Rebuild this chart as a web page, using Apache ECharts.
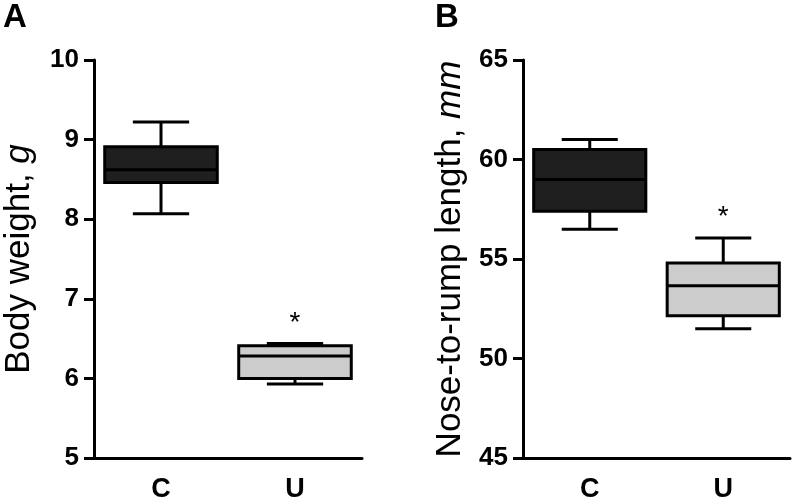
<!DOCTYPE html>
<html>
<head>
<meta charset="utf-8">
<script src="https://cdn.jsdelivr.net/npm/echarts@6/dist/echarts.min.js"></script>
<style>html,body{margin:0;padding:0;background:#fff}#c{width:797px;height:503px}</style>
</head>
<body>
<div id="c"></div>
<script>
// ---- data ----
const categories = ['C', 'U'];
// [min, Q1, median, Q3, max]
const weightC = [8.07, 8.46, 8.62, 8.91, 9.22];
const weightU = [5.93, 6.00, 6.28, 6.41, 6.44];
const lengthC = [56.5, 57.4, 59.0, 60.5, 61.0];
const lengthU = [51.5, 52.15, 53.65, 54.8, 56.05];
const weightAxisRange = [5, 10, 1];   // min, max, interval
const lengthAxisRange = [45, 65, 5];
const weightStar = [['U', 6.75]];
const lengthStar = [['U', 57.35]];
const groupFills = ['#1f1f1f', '#cccccc'];

const FONT = "'Liberation Sans', Arial, sans-serif";

function boxItem(params, api) {
  const ci = api.value(0);
  const vals = [api.value(1), api.value(2), api.value(3), api.value(4), api.value(5)];
  const band = api.size([1, 0])[0];
  const bw = band * 0.84;
  const cw = bw / 2;
  const p = vals.map(v => api.coord([ci, v]));
  const x = p[0][0];
  const lw = 3;
  const ls = {stroke: '#000', lineWidth: lw};
  return {
    type: 'group',
    children: [
      {type: 'line', shape: {x1: x, y1: p[3][1], x2: x, y2: p[4][1]}, style: ls},
      {type: 'line', shape: {x1: x, y1: p[1][1], x2: x, y2: p[0][1]}, style: ls},
      {type: 'line', shape: {x1: x - cw / 2, y1: p[4][1], x2: x + cw / 2, y2: p[4][1]}, style: ls},
      {type: 'line', shape: {x1: x - cw / 2, y1: p[0][1], x2: x + cw / 2, y2: p[0][1]}, style: ls},
      {type: 'rect', shape: {x: x - bw / 2, y: p[3][1], width: bw, height: p[1][1] - p[3][1]},
        style: {fill: groupFills[ci], stroke: '#000', lineWidth: lw}},
      {type: 'line', shape: {x1: x - bw / 2, y1: p[2][1], x2: x + bw / 2, y2: p[2][1]}, style: ls}
    ]
  };
}

function starItem(params, api) {
  const pt = api.coord([api.value(0), api.value(1)]);
  return {type: 'text', x: pt[0], y: pt[1] + 5,
    style: {text: '*', fill: '#000', font: "28px " + FONT, align: 'center', verticalAlign: 'middle'}};
}

function toRows(arrs) { return arrs.map((a, i) => [i].concat(a)); }
function starRows(s) { return s.map(d => [categories.indexOf(d[0]), d[1]]); }

function yAxisCfg(gi, range, name, fs, gap) {
  return {
    type: 'value', gridIndex: gi, min: range[0], max: range[1], interval: range[2],
    name: name, nameLocation: 'middle', nameGap: gap,
    nameTextStyle: {fontFamily: FONT, fontSize: fs, color: '#000',
      rich: {i: {fontFamily: FONT, fontSize: fs, fontStyle: 'italic', color: '#000'}}},
    axisLine: {show: true, lineStyle: {color: '#000', width: 3}},
    axisTick: {show: true, length: 10, lineStyle: {color: '#000', width: 3}},
    axisLabel: {fontFamily: FONT, fontSize: 26, fontWeight: 'bold', color: '#000', margin: 15},
    splitLine: {show: false}
  };
}
function xAxisCfg(gi) {
  return {
    type: 'category', gridIndex: gi, data: categories, boundaryGap: true,
    axisLine: {show: true, lineStyle: {color: '#000', width: 3}},
    axisTick: {show: false},
    axisLabel: {fontFamily: FONT, fontSize: 27, fontWeight: 'bold', color: '#000', margin: 18},
    splitLine: {show: false}
  };
}

const chart = echarts.init(document.getElementById('c'), null, {renderer: 'canvas'});
chart.setOption({
  backgroundColor: '#fff',
  animation: false,
  title: [
    {text: 'A', left: 3, top: 1, textStyle: {fontFamily: FONT, fontSize: 33, fontWeight: 'bold', color: '#000'}, padding: 0},
    {text: 'B', left: 435, top: 1, textStyle: {fontFamily: FONT, fontSize: 33, fontWeight: 'bold', color: '#000'}, padding: 0}
  ],
  grid: [
    {left: 94, top: 60, width: 268, height: 400},
    {left: 523, top: 60, width: 267, height: 400}
  ],
  xAxis: [xAxisCfg(0), xAxisCfg(1)],
  yAxis: [
    yAxisCfg(0, weightAxisRange, 'Body weight, {i|g}', 35, 57),
    yAxisCfg(1, lengthAxisRange, 'Nose-to-rump length, {i|mm}', 35, 55)
  ],
  series: [
    {type: 'custom', xAxisIndex: 0, yAxisIndex: 0, renderItem: boxItem, data: toRows([weightC, weightU])},
    {type: 'custom', xAxisIndex: 1, yAxisIndex: 1, renderItem: boxItem, data: toRows([lengthC, lengthU])},
    {type: 'custom', xAxisIndex: 0, yAxisIndex: 0, renderItem: starItem, data: starRows(weightStar)},
    {type: 'custom', xAxisIndex: 1, yAxisIndex: 1, renderItem: starItem, data: starRows(lengthStar)}
  ]
});
</script>
</body>
</html>
